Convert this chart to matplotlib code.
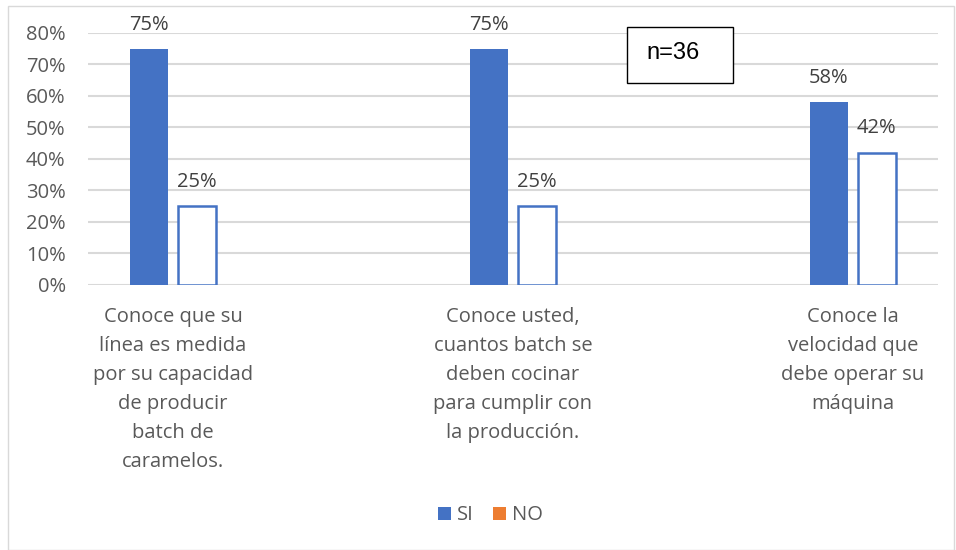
import matplotlib
matplotlib.use("Agg")
import matplotlib.pyplot as plt
from matplotlib.patches import Rectangle, Patch
import numpy as np

plt.rcParams['font.family'] = ['Open Sans', 'DejaVu Sans']

categories = [
    "Conoce que su\nlínea es medida\npor su capacidad\nde producir\nbatch de\ncaramelos.",
    "Conoce usted,\ncuantos batch se\ndeben cocinar\npara cumplir con\nla producción.",
    "Conoce la\nvelocidad que\ndebe operar su\nmáquina",
]
si = [0.75, 0.75, 0.58]
no = [0.25, 0.25, 0.42]
yticks = [0, 0.1, 0.2, 0.3, 0.4, 0.5, 0.6, 0.7, 0.8]

blue = "#4472C4"
orange = "#ED7D31"
text_gray = "#595959"
fs = 14.5

fig = plt.figure(figsize=(9.56, 5.5), dpi=100)
ax = fig.add_axes([0.092, 0.482, 0.889, 0.458])

x = np.arange(len(categories))
w = 0.112
off = 0.07
b1 = ax.bar(x - off, si, w, color=blue, zorder=3)
b2 = ax.bar(x + off, no, w, facecolor="white", edgecolor=blue, linewidth=1.8, zorder=3)

for rects, vals in ((b1, si), (b2, no)):
    for r, v in zip(rects, vals):
        ax.text(r.get_x() + r.get_width() / 2, v + 0.045, f"{v*100:.0f}%",
                ha="center", va="bottom", fontsize=fs, color="#404040", clip_on=False)

ax.set_xlim(-0.25, 2.25)
ax.set_ylim(0, 0.8)
ax.set_yticks(yticks)
ax.set_yticklabels([f"{t*100:.0f}%" for t in yticks], fontsize=fs, color=text_gray)
ax.set_xticks(x)
ax.set_xticklabels(categories, fontsize=fs, color=text_gray, linespacing=1.6, va="top")
ax.tick_params(axis="both", length=0)
ax.tick_params(axis="x", pad=16)
ax.tick_params(axis="y", pad=16)
ax.grid(axis="y", color="#D9D9D9", linewidth=1.5, zorder=0)
for s in ax.spines.values():
    s.set_visible(False)

# n box
fig.patches.append(Rectangle((0.656, 0.849), 0.111, 0.102, transform=fig.transFigure,
                             facecolor="white", edgecolor="black", linewidth=1.0, zorder=5))
fig.text(0.704, 0.904, "n=36", ha="center", va="center", fontsize=17,
         family="Liberation Sans", color="black", zorder=6)

handles = [Patch(facecolor=blue, label="SI"), Patch(facecolor=orange, label="NO")]
fig.legend(handles=handles, loc="center", bbox_to_anchor=(0.513, 0.063), ncol=2, frameon=False,
           fontsize=fs, labelcolor=text_gray, handlelength=0.6, handleheight=0.6,
           handletextpad=0.3, columnspacing=1.0)

fig.patches.append(Rectangle((0.008, 0.0), 0.99, 0.99, transform=fig.transFigure,
                             fill=False, edgecolor="#D9D9D9", linewidth=1.0))

fig.savefig("out.png", dpi=100)
